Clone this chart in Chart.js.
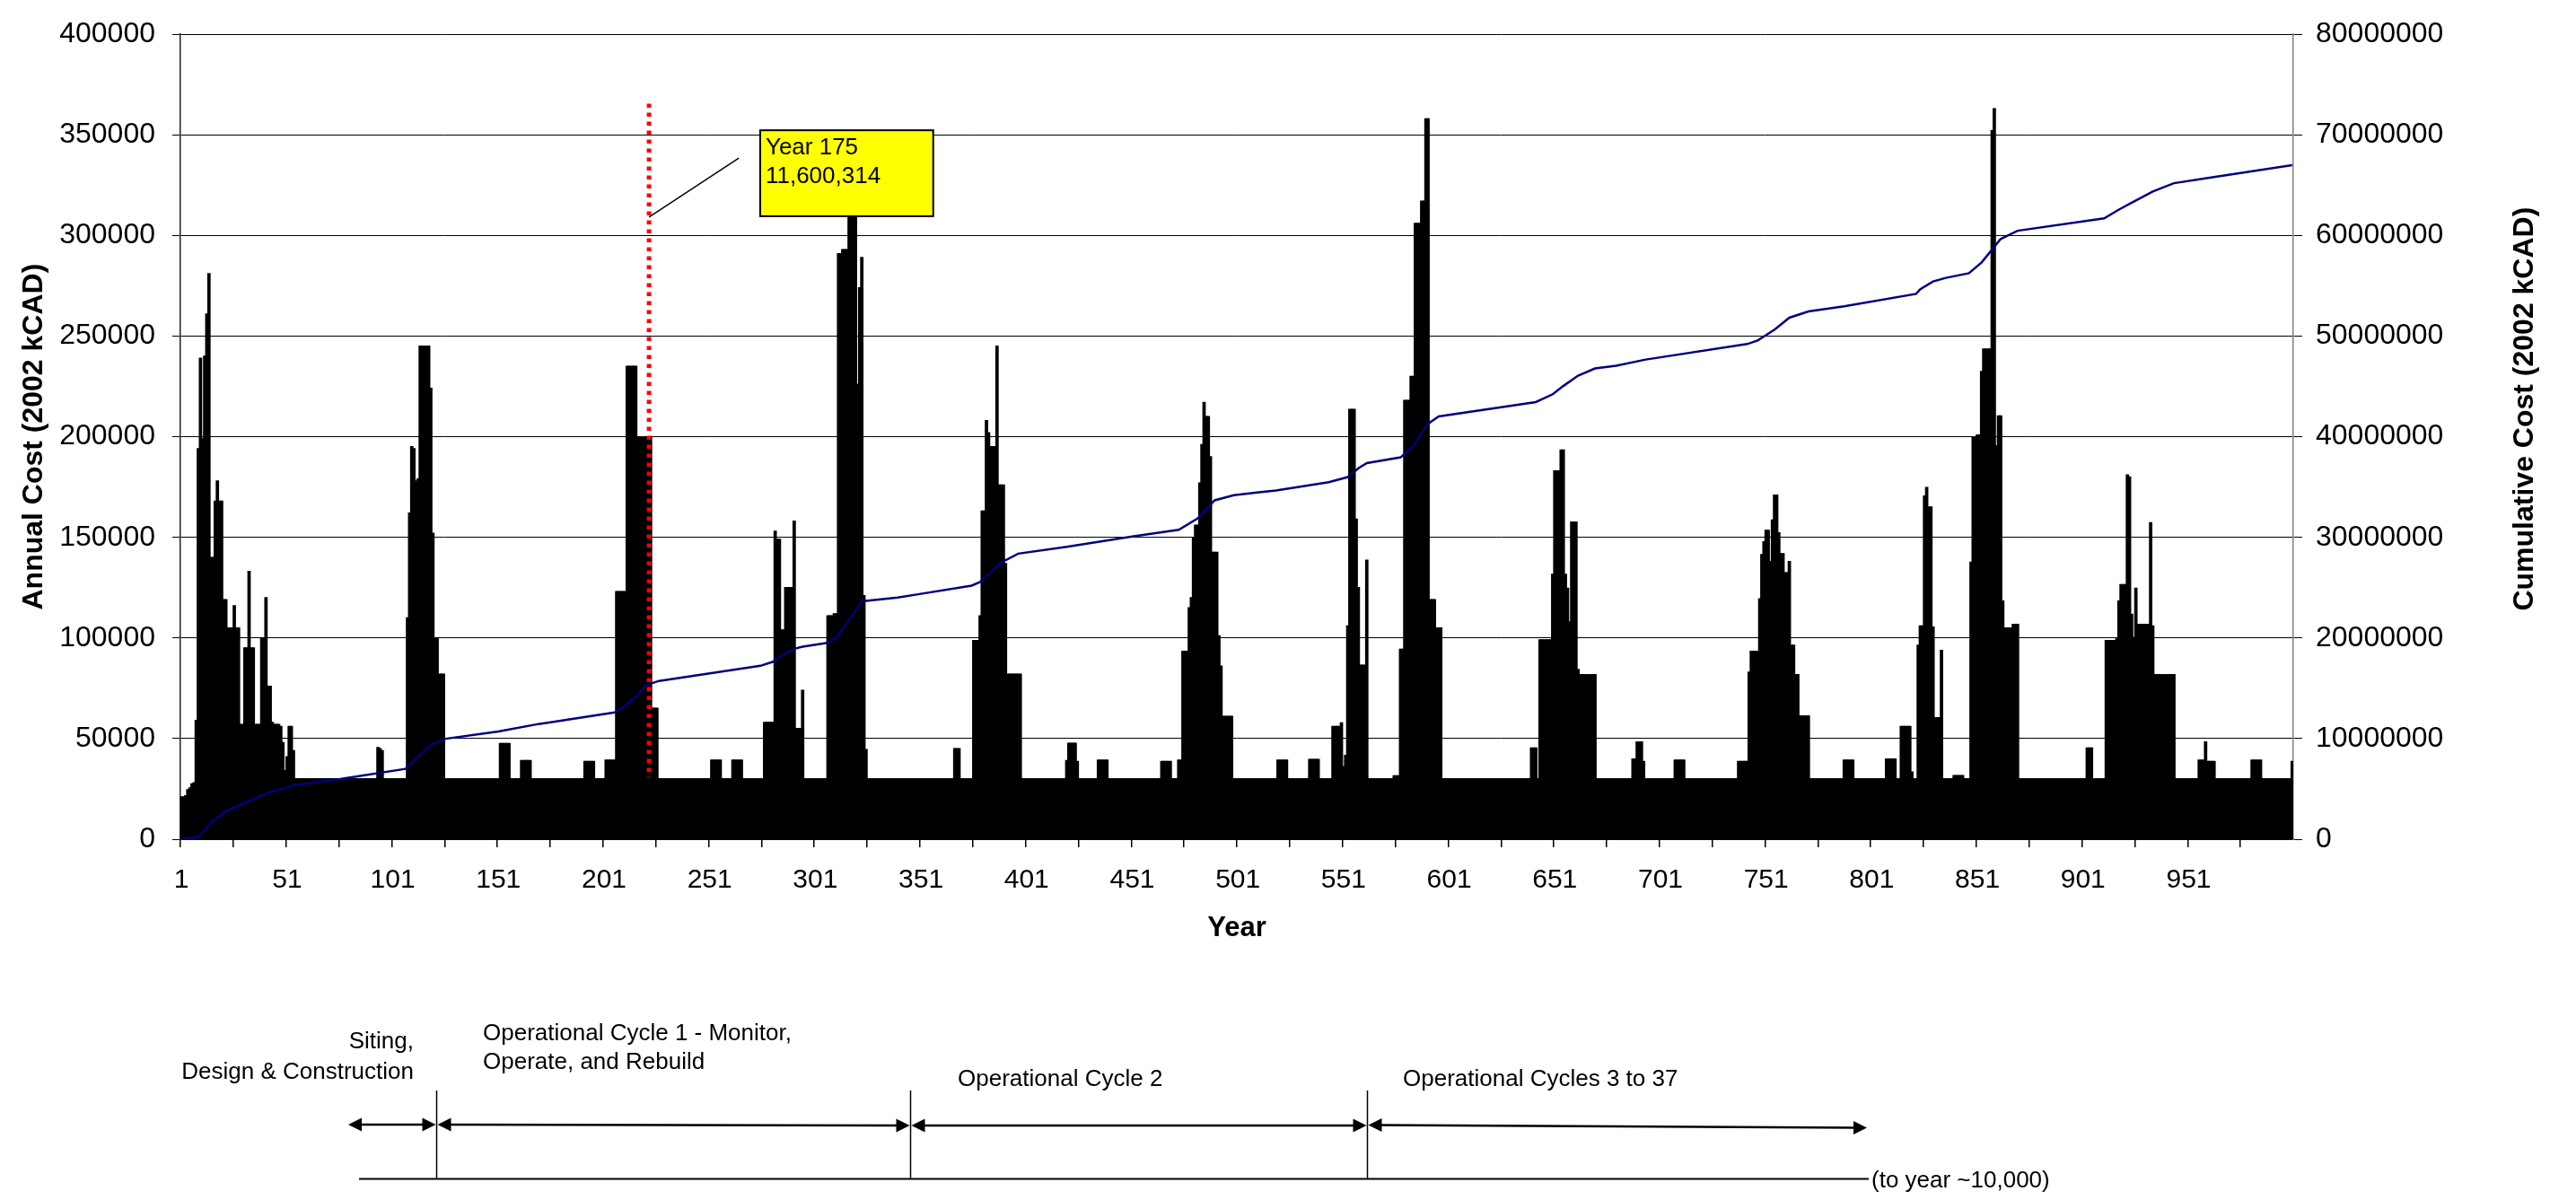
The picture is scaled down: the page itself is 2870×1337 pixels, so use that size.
<!DOCTYPE html>
<html>
<head>
<meta charset="utf-8">
<title>Annual and Cumulative Cost</title>
<script src="https://cdn.jsdelivr.net/npm/chart.js@4.4.1/dist/chart.umd.min.js"></script>
<style>
  html, body { margin: 0; padding: 0; background: #fff; }
  #wrap { width: 2870px; height: 1337px; position: relative; }
</style>
</head>
<body>
<div id="wrap"><canvas id="costChart"></canvas></div>
<script>
// years 1..1000
const years = Array.from({ length: 1000 }, (_, i) => String(i + 1));

// routine annual cost between rebuild campaigns
const baseCost = 30000;

// first year of each run of higher costs
const runStart = [1, 94, 108, 152, 162, 192, 202, 207, 252, 262, 277, 307, 367, 376, 420, 435, 465, 473,
  520, 535, 546, 575, 640, 688, 708, 738, 788, 808, 840, 903, 912, 956, 981, 1000];

// annual cost of each year in the run
const runCost = [
  [21000, 21000, 21500, 24500, 25500, 27500, 28000, 59000, 194000, 239000, 199000, 240000, 261000, 281000,
    140000, 140000, 168000, 178000, 168000, 168000, 119000, 119000, 105000, 105000, 105000, 116000, 105000,
    105000, 57000, 57000, 95000, 95000, 133000, 95000, 95000, 57000, 57000, 57000, 100000, 100000, 120000,
    76000, 76000, 58000, 57000, 57000, 57000, 56000, 48000, 34000, 41000, 56000, 56000, 44000],
  [45500, 45000, 44000],
  [110000, 162000, 195000, 194000, 178000, 179000, 245000, 245000, 245000, 245000, 245000, 224000, 152000,
    100000, 100000, 82000, 82000, 82000],
  [47500, 47500, 47500, 47500, 47500],
  [39000, 39000, 39000, 39000, 39000],
  [38600, 38600, 38600, 38600, 38600],
  [39300, 39300, 39300, 39300, 39300],
  [123000, 123000, 123000, 123000, 123000, 235000, 235000, 235000, 235000, 235000, 200000, 200000, 200000,
    200000, 200000, 200000, 200000, 65000, 65000, 65000],
  [39300, 39300, 39300, 39300, 39300],
  [39300, 39300, 39300, 39300, 39300],
  [58000, 58000, 58000, 58000, 58000, 153000, 149000, 149000, 104000, 104000, 125000, 125000, 125000, 125000,
    158000, 55000, 55000, 55000, 74000],
  [111000, 111000, 111000, 112000, 112000, 291000, 291000, 293000, 293000, 293000, 310000, 315000, 320000,
    312000, 226000, 274000, 289000, 121000, 44500],
  [45000, 45000, 45000],
  [98700, 98700, 98700, 111000, 163000, 163000, 208000, 202000, 195000, 195000, 195000, 245000, 176000,
    176000, 176000, 137000, 82000, 82000, 82000, 82000, 82000, 82000, 82000],
  [39000, 47600, 47600, 47600, 47600, 38600],
  [39300, 39300, 39300, 39300, 39300],
  [38600, 38600, 38600, 38600, 38600],
  [39300, 39300, 93300, 93300, 93300, 115000, 120000, 150000, 156000, 156000, 177000, 196000, 217000, 210000,
    210000, 190000, 142500, 142500, 142500, 101000, 86000, 61000, 61000, 61000, 61000, 61000],
  [39300, 39300, 39300, 39300, 39300],
  [39600, 39600, 39600, 39600, 39600],
  [56000, 56000, 56000, 56000, 57800, 36000, 41600, 106000, 213600, 213600, 213600, 159000, 125000, 86400,
    86400, 86400, 138600],
  [31500, 31500, 31500, 94400, 94400, 218000, 218000, 218000, 230000, 230000, 306000, 306000, 306000, 317000,
    317000, 358000, 358000, 119000, 119000, 119000, 105000, 105000, 105000],
  [45300, 45300, 45300, 30000, 99000, 99000, 99000, 99000, 99000, 99000, 131600, 183000, 183000, 183000,
    193400, 193400, 131600, 124700, 108000, 157600, 157600, 157600, 84300, 81800, 81800, 81800, 81800, 81800,
    81800, 81800, 81800],
  [39800, 39800, 48300, 48300, 48300, 38600],
  [39300, 39300, 39300, 39300, 39300],
  [38600, 38600, 38600, 38600, 38600, 83000, 93300, 93300, 93300, 93300, 119500, 141400, 147800, 153500,
    153500, 138000, 158600, 171000, 171000, 152200, 141900, 141900, 132400, 132400, 138000, 96400, 96400,
    81800, 81800, 61200, 61200, 61200, 61200, 61200],
  [39300, 39300, 39300, 39300, 39300],
  [39800, 39800, 39800, 39800, 39800, 30000, 30000, 56000, 56000, 56000, 56000, 56000, 33400, 30000, 30000,
    96400, 105900, 105900, 170500, 174800, 165000, 165000, 105400, 60400, 60400, 60400, 93800],
  [31600, 31600, 31600, 31600, 31600, 30000, 30000, 30000, 137600, 199800, 199800, 200800, 200800, 232400,
    243500, 243500, 243500, 243500, 352200, 363000, 195500, 210300, 210300, 118300, 105000, 105000, 105000,
    105000, 106700, 106700, 106700],
  [45300, 45300, 45300],
  [98700, 98700, 98700, 98700, 98700, 99500, 118300, 126500, 126500, 126500, 181000, 180000, 111800, 100300,
    124700, 106700, 106700, 106700, 106700, 106700, 106700, 157300, 105900, 81800, 81800, 81800, 81800, 81800,
    81800, 81800, 81800, 81800, 81800],
  [39300, 39300, 39300, 48300, 38600, 38600, 38600, 38600],
  [39300, 39300, 39300, 39300, 39300],
  [38600]
];

// cumulative cost, millions
const cumYears = [1, 9, 15, 22, 31, 42, 55, 76, 107, 119, 126, 151, 170, 175, 206, 211, 216, 221, 227, 275,
  281, 285, 291, 295, 306, 311, 318, 323, 340, 349, 375, 379, 389, 397, 420, 451, 473, 482, 490, 499,
  510, 519, 544, 553, 558, 562, 578, 584, 591, 596, 642, 650, 655, 662, 670, 680, 694, 742, 747, 755,
  762, 771, 788, 822, 824, 830, 836, 847, 853, 858, 862, 870, 911, 918, 924, 934, 944, 963, 1000];
const cumCost = [0.02, 0.21, 1.65, 2.8, 3.6, 4.63, 5.4, 5.97, 6.99, 9.36, 9.98, 10.7, 11.45, 11.6, 12.6,
  13.27, 14.14, 15.32, 15.73, 17.23, 17.64, 18.25, 18.92, 19.13, 19.49, 20.05, 22.11, 23.65, 24.01, 24.32,
  25.2, 25.56, 27.5, 28.38, 29.05, 30.08, 30.75, 31.88, 33.68, 34.19, 34.45, 34.66, 35.48, 35.99, 36.87,
  37.38, 37.95, 39.08, 41.29, 42.01, 43.45, 44.22, 45.04, 46.07, 46.79, 47.05, 47.67, 49.21, 49.57, 50.65,
  51.83, 52.45, 52.96, 54.2, 54.66, 55.43, 55.79, 56.25, 57.33, 58.62, 59.65, 60.47, 61.7, 62.58, 63.25,
  64.38, 65.2, 65.82, 67.0];

// annual series: routine cost, with the runs written over it
const annualCost = years.map(() => baseCost);
runStart.forEach((start, r) => {
  runCost[r].forEach((v, k) => { annualCost[start - 1 + k] = v; });
});
const cumulative = cumYears.map((yr, i) => ({ x: String(yr), y: cumCost[i] * 1e6 }));

const fontFamily = '"Liberation Sans", Arial, sans-serif';
Chart.defaults.font.family = fontFamily;
Chart.defaults.color = '#000';

// red marker, leader line and yellow label box
const callout = {
  id: 'callout',
  afterDatasetsDraw(chart, args, opts) {
    const { ctx, scales: { x, y } } = chart;
    const xp = yr => x.getPixelForValue(yr - 1);
    ctx.save();

    ctx.strokeStyle = '#ff0000';
    ctx.lineWidth = 5;
    ctx.setLineDash([4.5, 5.5]);
    ctx.beginPath();
    ctx.moveTo(xp(opts.marker), y.getPixelForValue(opts.markerTop));
    ctx.lineTo(xp(opts.marker), y.getPixelForValue(opts.markerBottom));
    ctx.stroke();
    ctx.setLineDash([]);

    ctx.strokeStyle = '#000';
    ctx.lineWidth = 1.5;
    ctx.beginPath();
    ctx.moveTo(xp(opts.leader[0]), y.getPixelForValue(opts.leader[1]));
    ctx.lineTo(xp(opts.leader[2]), y.getPixelForValue(opts.leader[3]));
    ctx.stroke();

    const bx1 = xp(opts.box[0]), bx2 = xp(opts.box[1]);
    const by1 = y.getPixelForValue(opts.box[2]), by2 = y.getPixelForValue(opts.box[3]);
    ctx.fillStyle = '#ffff00';
    ctx.fillRect(bx1, by1, bx2 - bx1, by2 - by1);
    ctx.lineWidth = 2;
    ctx.strokeRect(bx1, by1, bx2 - bx1, by2 - by1);

    ctx.fillStyle = '#000';
    ctx.font = '26px ' + fontFamily;
    ctx.textAlign = 'left';
    ctx.textBaseline = 'alphabetic';
    opts.lines.forEach((t, i) => ctx.fillText(t, bx1 + 6, by1 + 27 + i * 32));
    ctx.restore();
  }
};

// right axis title (reads bottom to top) and the phase timeline under the chart
const extras = {
  id: 'extras',
  afterDraw(chart) {
    const ctx = chart.ctx;
    const area = chart.chartArea;
    ctx.save();
    ctx.fillStyle = '#000';
    ctx.strokeStyle = '#000';

    ctx.save();
    ctx.translate(chart.scales.y2.right - 57, (area.top + area.bottom) / 2 - 31);
    ctx.rotate(-Math.PI / 2);
    ctx.font = 'bold 32px ' + fontFamily;
    ctx.textAlign = 'center';
    ctx.textBaseline = 'middle';
    ctx.fillText('Cumulative Cost (2002 kCAD)', 0, 0);
    ctx.restore();

    ctx.font = '26px ' + fontFamily;
    ctx.textBaseline = 'middle';
    ctx.textAlign = 'right';
    ctx.fillText('Siting,', 461, 1161);
    ctx.fillText('Design & Construction', 461, 1195);
    ctx.textAlign = 'left';
    ctx.fillText('Operational Cycle 1 - Monitor,', 538, 1152);
    ctx.fillText('Operate, and Rebuild', 538, 1184);
    ctx.fillText('Operational Cycle 2', 1067, 1203);
    ctx.fillText('Operational Cycles 3 to 37', 1563, 1203);
    ctx.fillText('(to year ~10,000)', 2085, 1316);

    // phase boundaries
    ctx.lineWidth = 1.5;
    [486.5, 1014.5, 1523.5].forEach(px => {
      ctx.beginPath();
      ctx.moveTo(px, 1215);
      ctx.lineTo(px, 1314);
      ctx.stroke();
    });

    ctx.lineWidth = 2;
    ctx.beginPath();
    ctx.moveTo(400, 1313.5);
    ctx.lineTo(2082, 1313.5);
    ctx.stroke();

    const head = (px, py, dir) => {
      ctx.beginPath();
      ctx.moveTo(px, py);
      ctx.lineTo(px - dir * 15, py - 7.5);
      ctx.lineTo(px - dir * 15, py + 7.5);
      ctx.closePath();
      ctx.fill();
    };
    const spans = [
      [388, 1253, 485.5, 1253],
      [487.5, 1253, 1013.5, 1254],
      [1015.5, 1254, 1522.5, 1254],
      [1524.5, 1253.5, 2080, 1256.5]
    ];
    ctx.lineWidth = 2.5;
    spans.forEach(([x1, y1, x2, y2]) => {
      ctx.beginPath();
      ctx.moveTo(x1 + 10, y1);
      ctx.lineTo(x2 - 10, y2);
      ctx.stroke();
      head(x1, y1, -1);
      head(x2, y2, 1);
    });
    ctx.restore();
  }
};

const xTickFont = { size: 30 };
const yTickFont = { size: 32 };

new Chart(document.getElementById('costChart'), {
  type: 'bar',
  data: {
    labels: years,
    datasets: [
      {
        type: 'line',
        label: 'Cumulative Cost',
        data: cumulative,
        yAxisID: 'y2',
        borderColor: '#000080',
        borderWidth: 2.5,
        pointRadius: 0,
        tension: 0,
        fill: false,
        order: 1
      },
      {
        label: 'Annual Cost',
        data: annualCost,
        yAxisID: 'y',
        backgroundColor: '#000',
        borderWidth: 0,
        inflateAmount: 0.7,
        barPercentage: 1,
        categoryPercentage: 1,
        order: 2
      }
    ]
  },
  options: {
    responsive: true,
    maintainAspectRatio: false,
    animation: false,
    devicePixelRatio: 1,
    layout: { padding: { top: 23, left: 0, right: 0, bottom: 0 } },
    plugins: {
      legend: { display: false },
      tooltip: { enabled: false },
      callout: {
        marker: 222.3,
        markerTop: 365500,
        markerBottom: 30700,
        leader: [222.3, 309200, 264.8, 338500],
        box: [274.9, 356.8, 352300, 309600],
        lines: ['Year 175', '11,600,314']
      }
    },
    scales: {
      x: {
        offset: true,
        grid: {
          offset: true,
          drawOnChartArea: false,
          tickLength: 9,
          lineWidth: 1.5,
          color: c => (c.index % 25 === 0 ? '#000' : 'rgba(0,0,0,0)')
        },
        border: { color: '#000', width: 1.5 },
        ticks: {
          autoSkip: false,
          maxRotation: 0,
          minRotation: 0,
          padding: 19,
          font: xTickFont,
          callback: (v, i) => (i % 50 === 0 ? years[i] : '')
        },
        title: {
          display: true,
          text: 'Year',
          font: { size: 31, weight: 'bold' },
          padding: { top: 0, bottom: 284 }
        },
        afterFit(s) { s.height = 402; }
      },
      y: {
        position: 'left',
        min: 0,
        max: 400000,
        grid: { color: '#000', lineWidth: 1, tickLength: 9 },
        border: { color: '#222', width: 1.5 },
        ticks: { stepSize: 50000, padding: 19, font: yTickFont, callback: v => String(v) },
        title: {
          display: true,
          text: 'Annual Cost (2002 kCAD)',
          font: { size: 32, weight: 'bold' },
          padding: { top: 19, bottom: 0 }
        },
        afterFit(s) { s.width = 201; }
      },
      y2: {
        position: 'right',
        min: 0,
        max: 80000000,
        grid: { drawOnChartArea: false, color: '#000', lineWidth: 1, tickLength: 10 },
        border: { color: '#808080', width: 1.5 },
        ticks: { stepSize: 10000000, padding: 15, font: yTickFont, callback: v => String(v) },
        afterFit(s) { s.width = 315; }
      }
    }
  },
  plugins: [callout, extras]
});
</script>
</body>
</html>
